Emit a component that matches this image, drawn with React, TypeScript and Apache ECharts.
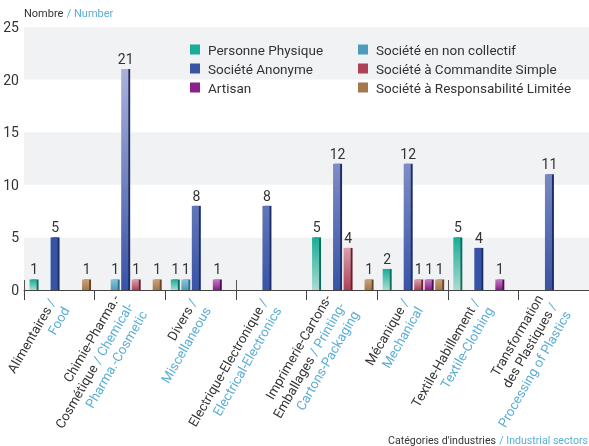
import React, { useEffect, useRef } from "react";
import * as echarts from "echarts";

const categories = [
  "Alimentaires /\nFood",
  "Chimie-Pharma.-\nCosmétique / Chemical-\nPharma.-Cosmetic",
  "Divers /\nMiscellaneous",
  "Electrique-Electronique /\nElectrical-Electronics",
  "Imprimerie-Cartons-\nEmballages / Printing-\nCartons-Packaging",
  "Mécanique /\nMechanical",
  "Textile-Habillement /\nTextile-Clothing",
  "Transformation\ndes Plastiques /\nProcessing of Plastics",
];

const seriesNames = [
  "Personne Physique",
  "Société en non collectif",
  "Société Anonyme",
  "Société à Commandite Simple",
  "Artisan",
  "Société à Responsabilité Limitée",
];

const personnePhysique = [1, 0, 1, 0, 5, 2, 5, 0];
const nonCollectif = [0, 1, 1, 0, 0, 0, 0, 0];
const anonyme = [5, 21, 8, 8, 12, 12, 4, 11];
const commandite = [0, 1, 0, 0, 4, 1, 0, 0];
const artisan = [0, 0, 1, 0, 0, 1, 1, 0];
const sarl = [1, 1, 0, 0, 1, 1, 0, 0];

const yTicks = [0, 5, 10, 15, 20, 25];

const seriesData = [personnePhysique, nonCollectif, anonyme, commandite, artisan, sarl];

const baseColors = ["#17ad99", "#4d9cbb", "#3953a6", "#ad4257", "#8b1f8b", "#a3784a"];
const lightColors = ["#a9dccf", "#8cc3d8", "#aab2db", "#d9a1aa", "#c27bc2", "#c9a27a"];
const sideColors = ["#0b6e60", "#2a6f8c", "#1b2d66", "#6e1a30", "#520a52", "#6b4420"];

const BLACK = "#333333";
const BLUE = "#5badd4";
const FONT = "Roboto, 'DejaVu Sans', sans-serif";

function hexToRgb(h: string) {
  const n = parseInt(h.slice(1), 16);
  return [(n >> 16) & 255, (n >> 8) & 255, n & 255];
}
function mix(a: string, b: string, t: number) {
  const A = hexToRgb(a);
  const B = hexToRgb(b);
  const c = A.map((v, i) => Math.round(v + (B[i] - v) * t));
  return `rgb(${c[0]},${c[1]},${c[2]})`;
}

function barGradient(si: number, v: number) {
  let top: string;
  let bottom: string;
  if (si === 0) {
    top = baseColors[0];
    bottom = lightColors[0];
  } else if (si === 2) {
    const t = v <= 5 ? 0 : Math.pow((v - 5) / 16, 0.6);
    top = mix(baseColors[2], lightColors[2], Math.min(1, t));
    bottom = baseColors[2];
  } else {
    top = lightColors[si];
    bottom = baseColors[si];
  }
  return new echarts.graphic.LinearGradient(0, 0, 0, 1, [
    { offset: 0, color: top },
    { offset: 1, color: bottom },
  ]);
}

function formatCategory(label: string) {
  let passed = false;
  return label
    .split("\n")
    .map((line) => {
      if (passed) return `{b|${line}}`;
      const idx = line.indexOf(" /");
      if (idx >= 0) {
        passed = true;
        const before = line.slice(0, idx);
        const after = line.slice(idx);
        return `{a|${before}}{b|${after}}`;
      }
      return `{a|${line}}`;
    })
    .join("\n");
}

export default function App() {
  const ref = useRef<HTMLDivElement>(null);

  useEffect(() => {
    if (!ref.current) return;
    const chart = echarts.init(ref.current, undefined, { renderer: "svg" });

    const series = seriesNames.map((name, si) => ({
      name,
      type: "bar",
      xAxisIndex: 0,
      barWidth: 7,
      barGap: "50%",
      data: seriesData[si].map((v) =>
        v > 0
          ? {
              value: v,
              itemStyle: {
                color: barGradient(si, v),
                shadowColor: sideColors[si],
                shadowOffsetX: 2,
                shadowOffsetY: 0,
                shadowBlur: 0,
              },
            }
          : null
      ),
      label: {
        show: true,
        position: "top",
        distance: 3,
        color: BLACK,
        fontSize: 14,
        fontFamily: FONT,
        offset: [1, 0],
      },
    }));

    const legendItem = (name: string) => {
      const si = seriesNames.indexOf(name);
      return {
        name,
        itemStyle: { color: baseColors[si], shadowBlur: 0, shadowOffsetX: 0, shadowColor: "transparent" },
      };
    };

    const legendCommon = {
      orient: "vertical",
      top: 42,
      padding: 0,
      itemWidth: 10,
      itemHeight: 10,
      itemGap: 4,
      icon: "rect",
      selectedMode: false,
      textStyle: { color: BLACK, fontSize: 13.5, fontFamily: FONT, lineHeight: 15, padding: [0, 0, 0, 3] },
    };

    chart.setOption({
      animation: false,
      textStyle: { fontFamily: FONT },
      grid: { left: 24, right: 0, top: 27, bottom: 156, containLabel: false },
      legend: [
        { ...legendCommon, left: 190, data: ["Personne Physique", "Société Anonyme", "Artisan"].map(legendItem) },
        {
          ...legendCommon,
          left: 358,
          data: ["Société en non collectif", "Société à Commandite Simple", "Société à Responsabilité Limitée"].map(
            legendItem
          ),
        },
      ],
      xAxis: [
        {
          type: "category",
          data: categories,
          position: "bottom",
          axisLine: { show: true, lineStyle: { color: "#444", width: 1 } },
          axisTick: { show: true, length: 10, lineStyle: { color: "#444" } },
          axisLabel: {
            interval: 0,
            rotate: 60,
            margin: 14,
            formatter: (v: string) => formatCategory(v),
            rich: {
              a: { color: BLACK, fontSize: 13.3, fontFamily: FONT, lineHeight: 16 },
              b: { color: BLUE, fontSize: 13.3, fontFamily: FONT, lineHeight: 16 },
            },
          },
        },
        {
          type: "category",
          data: categories,
          position: "bottom",
          axisLine: { show: false },
          axisTick: { show: true, inside: true, length: 10, lineStyle: { color: "#555" } },
          axisLabel: { show: false },
        },
      ],
      yAxis: {
        type: "value",
        min: yTicks[0],
        max: yTicks[yTicks.length - 1],
        interval: 5,
        axisLine: { show: false },
        axisTick: { show: false },
        splitLine: { show: false },
        splitArea: { show: true, areaStyle: { color: ["#f1f2f4", "#ffffff"] } },
        axisLabel: { color: BLACK, fontSize: 14, fontFamily: FONT, margin: 5 },
      },
      graphic: [
        {
          type: "text",
          left: 24,
          top: 7,
          style: {
            text: "{a|Nombre} {b|/ Number}",
            rich: {
              a: { fill: BLACK, fontSize: 11, fontFamily: FONT },
              b: { fill: BLUE, fontSize: 11, fontFamily: FONT },
            },
          },
        },
        {
          type: "text",
          right: 1,
          top: 434,
          style: {
            text: "{a|Catégories d'industries} {b|/ Industrial sectors}",
            rich: {
              a: { fill: BLACK, fontSize: 10.6, fontFamily: FONT },
              b: { fill: BLUE, fontSize: 10.6, fontFamily: FONT },
            },
          },
        },
      ],
      series,
    });

    return () => chart.dispose();
  }, []);

  return <div ref={ref} style={{ position: "fixed", left: 0, top: 0, width: 589, height: 446 }} />;
}
